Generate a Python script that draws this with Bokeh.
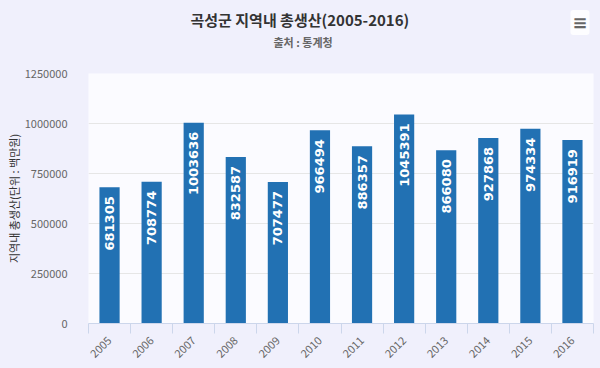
from bokeh.plotting import figure
from bokeh.models import (ColumnDataSource, Range1d, FixedTicker, Title,
                          GlobalInlineStyleSheet)
from bokeh.core.properties import value
from bokeh.embed import file_html
from bokeh.resources import INLINE
import math

years = ["2005", "2006", "2007", "2008", "2009", "2010",
         "2011", "2012", "2013", "2014", "2015", "2016"]
gdp = [681305, 708774, 1003636, 832587, 707477, 966494,
       886357, 1045391, 866080, 927868, 974334, 916919]
y_ticks = [0, 250000, 500000, 750000, 1000000, 1250000]

title_text = "곡성군 지역내 총생산(2005-2016)"
subtitle_text = "출처 : 통계청"
y_label = "지역내 총생산(단위 : 백만원)"

BG = "#f0f0fc"
KFONT = "Noto Sans CJK KR"

idx = list(range(len(years)))
src = ColumnDataSource(dict(x=idx, top=gdp, label=[str(v) for v in gdp]))

p = figure(frame_width=505, frame_height=250, output_backend="svg",
           toolbar_location=None, title=None,
           x_range=Range1d(-0.5, len(years) - 0.5),
           y_range=Range1d(y_ticks[0], y_ticks[-1]),
           min_border_left=88, min_border_right=7, min_border_top=73,
           min_border_bottom=45)
p.stylesheets = [GlobalInlineStyleSheet(css=f"body {{ background-color: {BG}; }}")]
p.background_fill_color = "#fbfbff"
p.border_fill_color = BG
p.outline_line_color = None

p.vbar(x="x", top="top", width=0.48, source=src, color="#2271b3", line_color=None)

p.text(x="x", y="top", text="label", source=src, angle=math.pi / 2,
       text_align="right", text_baseline="middle", y_offset=9,
       text_color="white", text_font=value("DejaVu Sans"),
       text_font_style="bold", text_font_size="13px")

# titles, stacked upward from the frame
spacer = Title(text=" ", text_font=KFONT, text_font_size="11px", standoff=-2)
sub = Title(text=subtitle_text, align="left", offset=185, text_font=KFONT,
            text_font_size="11px", text_font_style="bold",
            text_color="#666666", standoff=16)
icon = Title(text="≡", align="right", offset=4, text_font="DejaVu Sans",
             text_font_size="18px", text_font_style="bold",
             text_color="#666666", background_fill_color="white",
             background_fill_alpha=0.85, padding=2, border_radius=3,
             standoff=-23)
main = Title(text=title_text, align="left", offset=102, text_font=KFONT,
             text_font_size="15px", text_font_style="bold",
             text_color="#333333", standoff=-20)
for t in (spacer, sub, icon, main):
    p.add_layout(t, "above")

# y axis
p.yaxis.ticker = FixedTicker(ticks=y_ticks)
p.yaxis.formatter.use_scientific = False
p.yaxis.axis_line_color = None
p.yaxis.major_tick_line_color = None
p.yaxis.minor_tick_line_color = None
p.yaxis.major_label_text_font = KFONT
p.yaxis.major_label_text_font_size = "11px"
p.yaxis.major_label_text_color = "#666666"
p.yaxis.major_label_standoff = 15
p.yaxis.axis_label = y_label
p.yaxis.axis_label_text_font = KFONT
p.yaxis.axis_label_text_font_size = "11px"
p.yaxis.axis_label_text_font_style = "normal"
p.yaxis.axis_label_text_color = "#333333"
p.yaxis.axis_label_standoff = 0

# x axis
p.xaxis.ticker = FixedTicker(ticks=idx,
                             minor_ticks=[i - 0.5 for i in range(len(years) + 1)])
p.xaxis.major_label_overrides = {i: y for i, y in zip(idx, years)}
p.xaxis.major_label_orientation = math.pi / 4
p.xaxis.axis_line_color = "#ccd6eb"
p.xaxis.major_tick_line_color = None
p.xaxis.minor_tick_line_color = "#ccd6eb"
p.xaxis.minor_tick_out = 10
p.xaxis.minor_tick_in = 0
p.xaxis.major_label_text_font = KFONT
p.xaxis.major_label_text_font_size = "11px"
p.xaxis.major_label_text_color = "#666666"
p.xaxis.major_label_standoff = 5

p.xgrid.grid_line_color = None
p.ygrid.ticker = FixedTicker(ticks=y_ticks)
p.ygrid.grid_line_color = "#e6e6e6"

open("out.html", "w").write(file_html(p, INLINE))
